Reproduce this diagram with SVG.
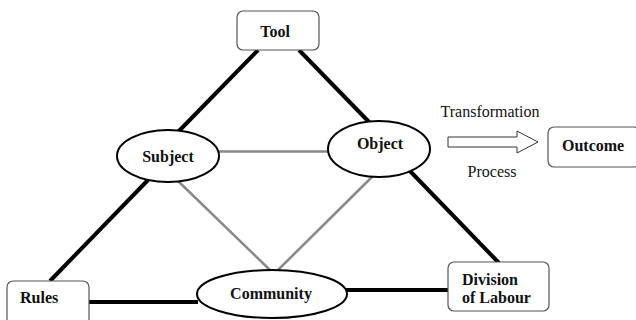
<svg xmlns="http://www.w3.org/2000/svg" width="636" height="320" viewBox="0 0 636 320">
<style>
.box{fill:#fff;stroke:#555;stroke-width:1.2}
.ell{fill:#fff;stroke:#000;stroke-width:2}
.lb{font-family:"Liberation Serif","Times New Roman",serif;font-weight:bold;font-size:16px;fill:#111}
.lr{font-family:"Liberation Serif","Times New Roman",serif;font-size:16px;fill:#111}
.thick{stroke:#000;stroke-width:4;fill:none}
.grey{stroke:#888;stroke-width:2.5;fill:none}
</style>
<rect width="636" height="320" fill="#fff"/>
<g id="connectors">
<line class="thick" x1="258" y1="50" x2="178" y2="132"/>
<line class="thick" x1="299" y1="50" x2="369" y2="122"/>
<line class="thick" x1="148" y1="180" x2="50" y2="281"/>
<line class="thick" x1="409" y1="170" x2="499" y2="263"/>
<line class="thick" x1="89" y1="302" x2="198" y2="302"/>
<line class="thick" x1="346" y1="290" x2="448" y2="290"/>
<line class="grey" x1="219" y1="151.5" x2="328" y2="151.5"/>
<line class="grey" x1="177" y1="180" x2="271" y2="271"/>
<line class="grey" x1="377" y1="172" x2="277" y2="271"/>
<path d="M448,137 H517 V131 L538,142 L517,153 V147 H448 Z" fill="#fff" stroke="#333" stroke-width="1"/>
<text class="lr" x="490" y="117" text-anchor="middle">Transformation</text>
<text class="lr" x="492" y="177" text-anchor="middle">Process</text>
</g>
<g id="tool">
<rect class="box" x="237" y="11" width="82" height="39" rx="6"/>
<text class="lb" x="275" y="37" text-anchor="middle">Tool</text>
</g>
<g id="subject">
<ellipse class="ell" cx="168" cy="156" rx="51" ry="26"/>
<text class="lb" x="168" y="162" text-anchor="middle">Subject</text>
</g>
<g id="object">
<ellipse class="ell" cx="379" cy="149" rx="51" ry="28"/>
<text class="lb" x="380" y="149" text-anchor="middle">Object</text>
</g>
<g id="outcome">
<rect class="box" x="548" y="127" width="92" height="40" rx="6"/>
<text class="lb" x="562" y="151">Outcome</text>
</g>
<g id="rules">
<rect class="box" x="7" y="281" width="82" height="45" rx="6"/>
<text class="lb" x="20" y="303">Rules</text>
</g>
<g id="community">
<ellipse class="ell" cx="272" cy="294" rx="75" ry="24"/>
<text class="lb" x="271" y="299" text-anchor="middle">Community</text>
</g>
<g id="division">
<rect class="box" x="448" y="262" width="101" height="49" rx="6"/>
<text class="lb" x="462" y="285">Division</text>
<text class="lb" x="462" y="303">of Labour</text>
</g>
</svg>
